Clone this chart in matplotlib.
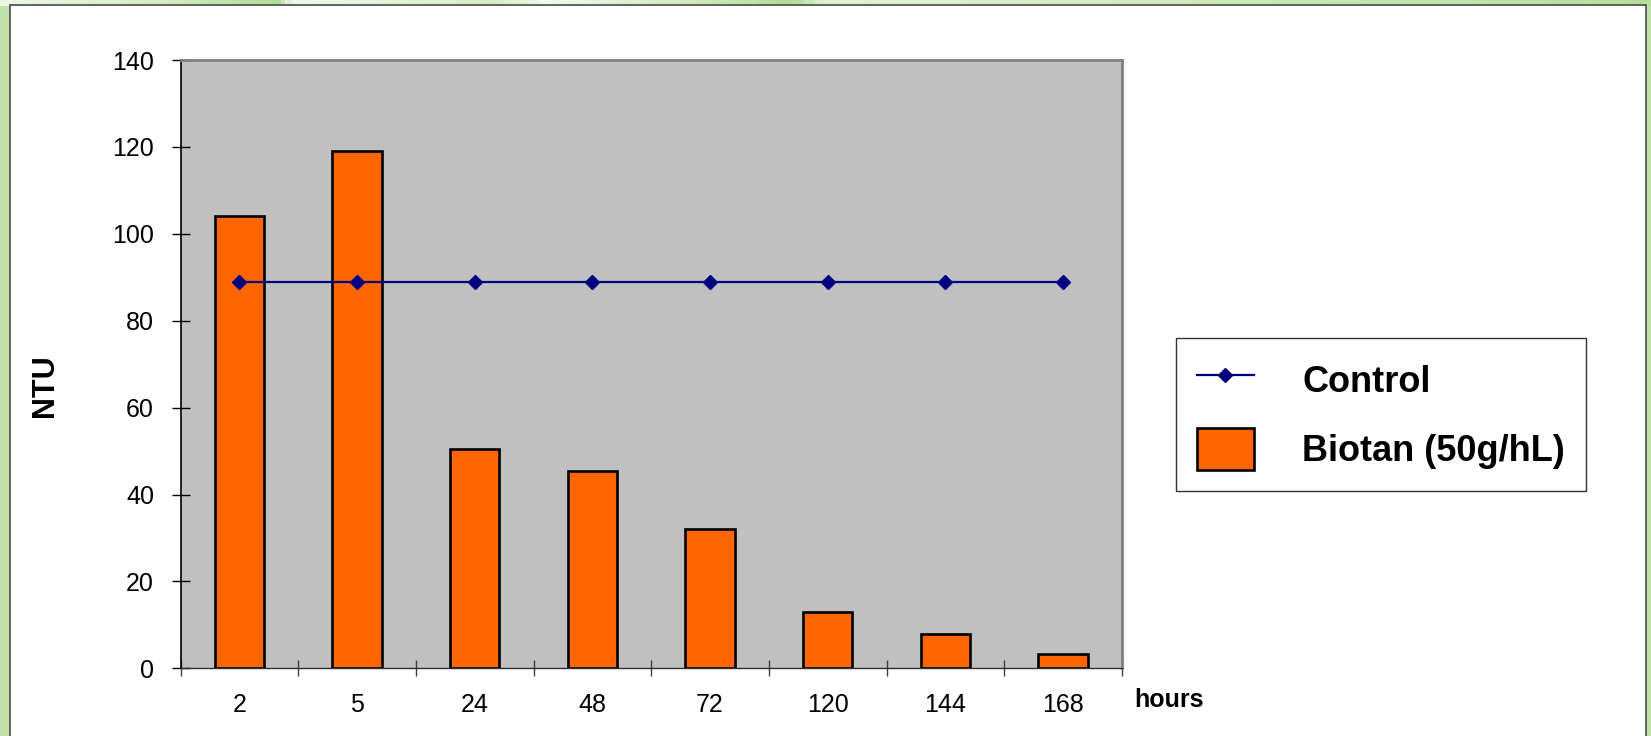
import numpy as np
import matplotlib
matplotlib.use("Agg")
from matplotlib import pyplot as plt
from matplotlib.patches import Rectangle
from matplotlib.colors import LinearSegmentedColormap

plt.rcParams['font.family'] = ['Liberation Sans', 'DejaVu Sans']

# turbidity readings over time
hours = ['2', '5', '24', '48', '72', '120', '144', '168']
biotan = [104, 119, 50.5, 45.3, 32, 13, 8, 3.3]
control = [89, 89, 89, 89, 89, 89, 89, 89]

W, H = 1651, 736
fig = plt.figure(figsize=(W / 100, H / 100), dpi=100, facecolor='#bfe3a8')

# green slide background behind the white panel
bg = fig.add_axes([0, 0, 1, 1], zorder=-10)
bg.set_xlim(0, W)
bg.set_ylim(H, 0)
bg.axis('off')
band = LinearSegmentedColormap.from_list('band', [
    (0.0, '#eef7e6'), (0.10, '#d2ecc0'), (0.165, '#b3dc98'), (0.175, '#f2f9ec'),
    (0.30, '#d4edc3'), (0.33, '#f3f9ee'), (0.45, '#c2e4aa'), (0.48, '#b0da94'),
    (0.50, '#e2f2d6'), (0.70, '#d0ebbe'), (1.0, '#b6df9c')])
bg.imshow(np.linspace(0, 1, 400)[None, :], cmap=band, aspect='auto',
          extent=(0, W, 6, 0), zorder=0)
bg.add_patch(Rectangle((10, 5), 1636, 740, facecolor='white',
                       edgecolor='#4a4a4a', linewidth=1.2, zorder=1))

ax = fig.add_axes([180.5 / W, 67.7 / H, 941.5 / W, 608.3 / H])
ax.set_facecolor('#c0c0c0')

x = np.arange(len(hours))
bars = ax.bar(x, biotan, width=0.42, color='#ff6600', edgecolor='black',
              linewidth=1.9, zorder=2, label='Biotan (50g/hL)')
line, = ax.plot(x, control, color='#000080', linewidth=1.6, marker='D',
                markersize=7.2, zorder=3, label='Control')

ax.set_xlim(-0.5, len(hours) - 0.5)
ax.set_ylim(0, 140)
ax.set_yticks(np.arange(0, 141, 20))
ax.set_xticks(x)
ax.set_xticklabels(hours)
ax.set_xticks(np.arange(-0.5, len(hours)), minor=True)

ax.tick_params(axis='y', direction='inout', length=13, width=1, pad=12.5,
               labelsize=18, color='black')
ax.tick_params(axis='x', which='major', length=0, pad=18, labelsize=18)
ax.tick_params(axis='x', which='minor', direction='inout', length=12,
               width=1, color='#404040')

for side in ['top', 'right']:
    ax.spines[side].set_color('#808080')
    ax.spines[side].set_linewidth(2)
ax.spines['left'].set_color('black')
ax.spines['left'].set_linewidth(1.2)
ax.spines['bottom'].set_color('#303030')
ax.spines['bottom'].set_linewidth(1)

fig.text(45 / W, 1 - 386 / H, 'NTU', rotation=90, fontsize=22,
         fontweight='bold', ha='center', va='center')
fig.text(1134 / W, 1 - 700 / H, 'hours', fontsize=18, fontweight='bold',
         ha='left', va='center')

leg = fig.legend(handles=[line, bars], labels=['Control', 'Biotan (50g/hL)'],
                 loc='upper left', bbox_to_anchor=(1176 / W, 1 - 338 / H),
                 borderaxespad=0, fancybox=False, shadow=False,
                 prop={'size': 26, 'weight': 'bold'},
                 handlelength=1.6, handleheight=1.41, handletextpad=1.33,
                 borderpad=0.57, labelspacing=0.77)
leg.get_frame().set_edgecolor('black')
leg.get_frame().set_linewidth(1)

fig.savefig('out.png', dpi=100, facecolor=fig.get_facecolor())
